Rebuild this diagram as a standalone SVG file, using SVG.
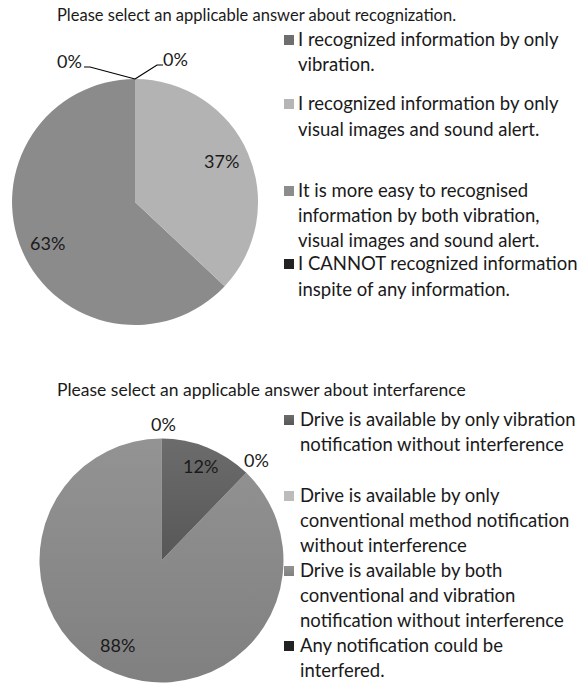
<svg xmlns="http://www.w3.org/2000/svg" width="581" height="683" viewBox="0 0 581 683">
  <style>
    text { font-family: Lato, "Liberation Sans", sans-serif; fill: #1a1a1a; }
    .t1 { font-size: 16.5px; }
    .t2 { font-size: 17.5px; }
    .leg { font-size: 18.5px; }
    .pct { font-size: 18px; }
    .lead { fill: none; stroke: #000; stroke-width: 1.2; }
  </style>
  <defs>
    <linearGradient id="gMid" x1="0" y1="0" x2="0" y2="1">
      <stop offset="0" stop-color="#939393"/>
      <stop offset="1" stop-color="#808080"/>
    </linearGradient>
    <linearGradient id="gDark" x1="0" y1="0" x2="0" y2="1">
      <stop offset="0" stop-color="#6c6c6c"/>
      <stop offset="1" stop-color="#575757"/>
    </linearGradient>
  </defs>

  <!-- chart 1: recognition -->
  <g id="chart1-title">
    <text class="t1" x="57" y="21">Please select an applicable answer about recognization.</text>
  </g>
  <g id="pie1">
    <!-- 63% slice -->
    <path d="M135,202 L224.7,286.2 A123,123 0 1 1 135,79 Z" fill="#8b8b8b"/>
    <!-- 37% slice -->
    <path d="M135,202 L135,79 A123,123 0 0 1 224.7,286.2 Z" fill="#b3b3b3"/>
  </g>
  <g id="pie1-labels">
    <polyline class="lead" points="84,67 90,67 135,79"/>
    <polyline class="lead" points="163,65 157,65 135,79"/>
    <text class="pct" x="57" y="68">0%</text>
    <text class="pct" x="163" y="66">0%</text>
    <text class="pct" x="204" y="168">37%</text>
    <text class="pct" x="30" y="250">63%</text>
  </g>
  <g id="legend1">
    <rect x="284" y="35" width="10" height="10" fill="#6e6e6e"/>
    <text class="leg" x="298" y="46">I recognized information by only</text>
    <text class="leg" x="298" y="71">vibration.</text>
    <rect x="284" y="99" width="10" height="10" fill="#b5b5b5"/>
    <text class="leg" x="298" y="110">I recognized information by only</text>
    <text class="leg" x="298" y="136">visual images and sound alert.</text>
    <rect x="284" y="186" width="10" height="10" fill="#8c8c8c"/>
    <text class="leg" x="298" y="197">It is more easy to recognised</text>
    <text class="leg" x="298" y="222">information by both vibration,</text>
    <text class="leg" x="298" y="247">visual images and sound alert.</text>
    <rect x="284" y="259" width="10" height="10" fill="#222"/>
    <text class="leg" x="298" y="270">I CANNOT recognized information</text>
    <text class="leg" x="298" y="296">inspite of any information.</text>
  </g>

  <!-- chart 2: interference -->
  <g id="chart2-title">
    <text class="t2" x="57" y="396">Please select an applicable answer about interfarence</text>
  </g>
  <g id="pie2">
    <path d="M161.5,560.5 L246.3,472.8 A122,122 0 1 1 161.5,438.5 Z" fill="url(#gMid)"/>
    <path d="M161.5,560.5 L161.5,438.5 A122,122 0 0 1 246.3,472.8 Z" fill="url(#gDark)"/>
  </g>
  <g id="pie2-labels">
    <text class="pct" x="151" y="431">0%</text>
    <text class="pct" x="183" y="473">12%</text>
    <text class="pct" x="244" y="467">0%</text>
    <text class="pct" x="100" y="652">88%</text>
  </g>
  <g id="legend2">
    <rect x="284" y="415" width="10" height="10" fill="url(#gDark)"/>
    <text class="leg" x="300" y="426">Drive is available by only vibration</text>
    <text class="leg" x="300" y="451">notification without interference</text>
    <rect x="284" y="491" width="10" height="10" fill="#bcbcbc"/>
    <text class="leg" x="300" y="502">Drive is available by only</text>
    <text class="leg" x="300" y="527">conventional method notification</text>
    <text class="leg" x="300" y="552">without interference</text>
    <rect x="284" y="566" width="10" height="10" fill="url(#gMid)"/>
    <text class="leg" x="300" y="577">Drive is available by both</text>
    <text class="leg" x="300" y="602">conventional and vibration</text>
    <text class="leg" x="300" y="627">notification without interference</text>
    <rect x="284" y="641" width="10" height="10" fill="#222"/>
    <text class="leg" x="300" y="652">Any notification could be</text>
    <text class="leg" x="300" y="677">interfered.</text>
  </g>
</svg>
